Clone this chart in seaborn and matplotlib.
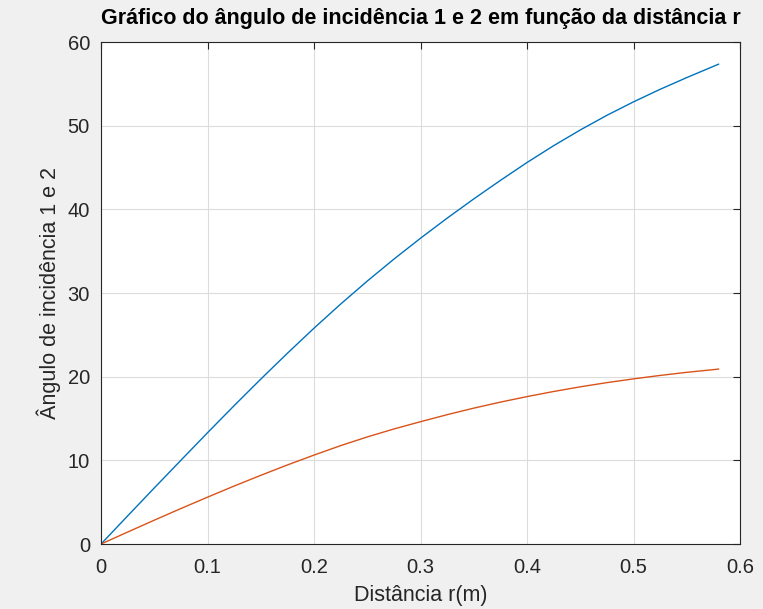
import matplotlib
matplotlib.use("Agg")
import matplotlib.pyplot as plt
import numpy as np
import pandas as pd
import seaborn as sns

# distance r (m) and the two angles (degrees)
r = [0.0, 0.025, 0.05, 0.075, 0.1, 0.125, 0.15, 0.175, 0.2, 0.225, 0.25, 0.275,
     0.3, 0.325, 0.35, 0.375, 0.4, 0.425, 0.45, 0.475, 0.5, 0.525, 0.55, 0.58]
angulo1 = [0.0, 3.36, 6.70, 10.01, 13.30, 16.54, 19.71, 22.80, 25.80, 28.68, 31.43, 34.05,
           36.55, 38.95, 41.25, 43.46, 45.60, 47.61, 49.49, 51.24, 52.85, 54.35, 55.75, 57.36]
angulo2 = [0.0, 1.43, 2.85, 4.24, 5.60, 6.93, 8.21, 9.45, 10.63, 11.76, 12.80, 13.75,
           14.62, 15.46, 16.24, 16.96, 17.62, 18.23, 18.79, 19.29, 19.74, 20.15, 20.52, 20.91]

xticks = [0, 0.1, 0.2, 0.3, 0.4, 0.5, 0.6]
xticklabels = ["0", "0.1", "0.2", "0.3", "0.4", "0.5", "0.6"]
yticks = [0, 10, 20, 30, 40, 50, 60]

df = pd.DataFrame({
    "r": r * 2,
    "ang": angulo1 + angulo2,
    "serie": ["1"] * len(r) + ["2"] * len(r),
})

sns.set_style("white")
plt.rcParams["font.family"] = ["Liberation Sans", "DejaVu Sans"]

fig = plt.figure(figsize=(7.63, 6.09), dpi=100, facecolor="#F0F0F0")
ax = fig.add_axes([0.1324, 0.1067, 0.8375, 0.8243])
ax.set_facecolor("white")

sns.lineplot(data=df, x="r", y="ang", hue="serie",
             palette=["#0072BD", "#D95319"], linewidth=1.0,
             legend=False, ax=ax, estimator=None, sort=False)

ax.set_xlim(0, 0.6)
ax.set_ylim(0, 60)
ax.set_xticks(xticks)
ax.set_xticklabels(xticklabels)
ax.set_yticks(yticks)

ax.grid(True, color="#DCDCDC", linewidth=0.8)
ax.set_axisbelow(True)
for s in ax.spines.values():
    s.set_color("#262626")
    s.set_linewidth(0.8)
    s.set_visible(True)
ax.tick_params(direction="in", length=5, width=0.8, color="#262626",
               labelcolor="#262626", labelsize=14.5, top=True, right=True)
ax.tick_params(axis="x", pad=10)
ax.tick_params(axis="y", pad=8)

ax.set_title("Gráfico do ângulo de incidência 1 e 2 em função da distância r",
             fontsize=15.5, fontweight="bold", color="black", pad=13)
ax.set_xlabel("Distância r(m)", fontsize=15.5, color="#262626", labelpad=6)
ax.set_ylabel("Ângulo de incidência 1 e 2", fontsize=15.5, color="#262626",
              labelpad=5)

fig.savefig("out.png", dpi=100, facecolor=fig.get_facecolor())
